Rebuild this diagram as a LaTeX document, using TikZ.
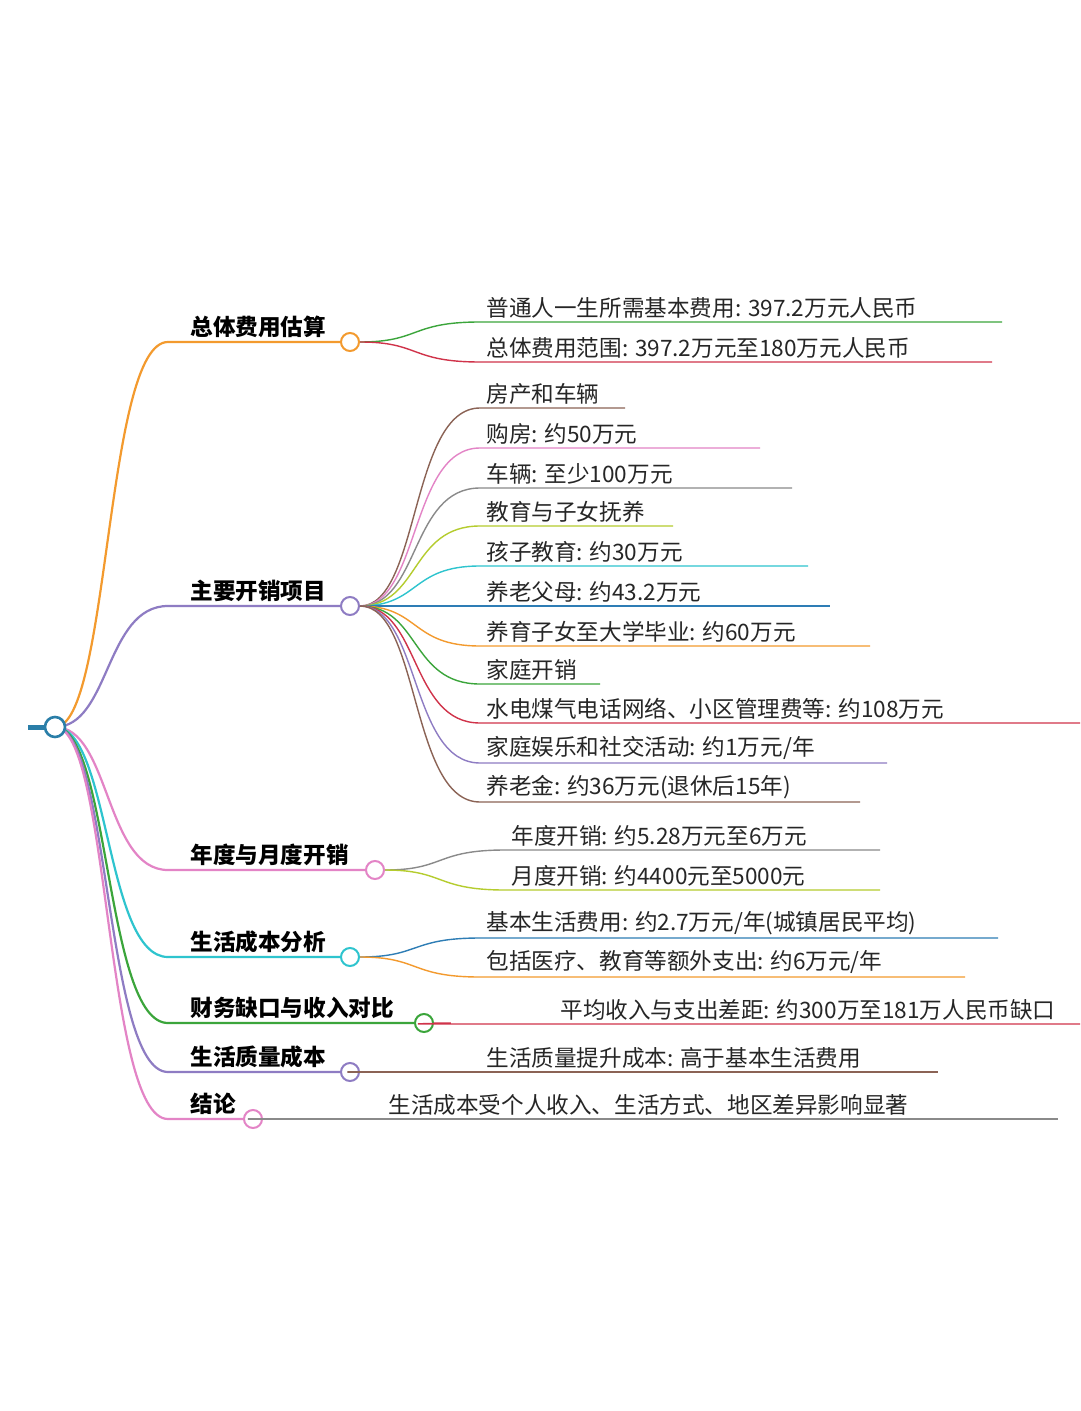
\documentclass[tikz,border=0pt]{standalone}
\usepackage{fontspec}
\setmainfont{Noto Sans CJK SC}
\definecolor{cor}{HTML}{F39A2E}
\definecolor{cpu}{HTML}{8E7CC3}
\definecolor{cpk}{HTML}{E384C6}
\definecolor{ccy}{HTML}{2EC4CE}
\definecolor{cgr}{HTML}{3BA53B}
\definecolor{cre}{HTML}{D0334A}
\definecolor{cbr}{HTML}{8B6355}
\definecolor{cgy}{HTML}{8A8A8A}
\definecolor{cyg}{HTML}{B5CC2E}
\definecolor{cbl}{HTML}{2E7DB5}
\definecolor{croot}{HTML}{2A7EA8}
\begin{document}
\begin{tikzpicture}[x=0.5pt,y=-0.5pt,
  dot/.style={circle,draw,fill=white,line width=1pt,minimum size=9pt,inner sep=0pt},
  br/.style={line width=1.1pt},
  lf/.style={line width=0.7pt},
  txt/.style={anchor=south west,inner sep=0pt,font=\fontsize{11.3}{13}\selectfont,text=black!85},
  mtxt/.style={anchor=south west,inner sep=0pt,font=\fontsize{11.3}{13}\selectfont\bfseries}]
\useasboundingbox (0,0) rectangle (1080,1411);
\fill[white] (0,0) rectangle (1080,1411);
\coordinate (s) at (28,727);
\draw[croot,line width=2.5pt] (s) -- (44,727);
% main branches: y, circle x, colour, label, name
\foreach \y/\cx/\c/\t/\n in {342/350/cor/总体费用估算/m1, 606/350/cpu/主要开销项目/m2, 870/375/cpk/年度与月度开销/m3, 957/350/ccy/生活成本分析/m4, 1023/424/cgr/财务缺口与收入对比/m5, 1072/350/cpu/生活质量成本/m6, 1119/253/cpk/结论/m7}{
  \coordinate (\n s) at (168,\y);
  \node[dot,draw=\c] (\n) at (\cx,\y) {};
  \draw[br,\c] (55,727) .. controls (110,727) and (105,\y) .. (\n s) -- (\n);
  \node[mtxt] (\n t) at (190,\y-4) {\t};
}
\node[dot,draw=croot,line width=1.3pt,minimum size=10pt] (root) at (55,727) {};
% children helper
\newcommand{\kid}[7]{% parent, y, startx, endx, colour, textx, text
  \coordinate (#1a#2) at (#3,#2);
  \coordinate (#1b#2) at (#4,#2);
  \draw[lf,#5] (#1.east) .. controls ($(#1.east)+(60,0)$) and ($(#1a#2)+(-70,0)$) .. (#1a#2) -- (#1b#2);
  \node[txt] (#1t#2) at (#6,#2-3) {#7};}
\usetikzlibrary{calc}
\kid{m1}{322}{480}{1002}{cgr}{486}{普通人一生所需基本费用: 397.2万元人民币}
\kid{m1}{362}{480}{992}{cre}{486}{总体费用范围: 397.2万元至180万元人民币}
\kid{m2}{408}{480}{625}{cbr}{486}{房产和车辆}
\kid{m2}{448}{480}{760}{cpk}{486}{购房: 约50万元}
\kid{m2}{488}{480}{792}{cgy}{486}{车辆: 至少100万元}
\kid{m2}{526}{480}{673}{cyg}{486}{教育与子女抚养}
\kid{m2}{566}{480}{808}{ccy}{486}{孩子教育: 约30万元}
\kid{m2}{606}{480}{830}{cbl}{486}{养老父母: 约43.2万元}
\kid{m2}{646}{480}{870}{cor}{486}{养育子女至大学毕业: 约60万元}
\kid{m2}{684}{480}{600}{cgr}{486}{家庭开销}
\kid{m2}{723}{480}{1080}{cre}{486}{水电煤气电话网络、小区管理费等: 约108万元}
\kid{m2}{763}{480}{887}{cpu}{486}{家庭娱乐和社交活动: 约1万元/年}
\kid{m2}{802}{480}{860}{cbr}{486}{养老金: 约36万元(退休后15年)}
\kid{m3}{850}{505}{880}{cgy}{511}{年度开销: 约5.28万元至6万元}
\kid{m3}{890}{505}{880}{cyg}{511}{月度开销: 约4400元至5000元}
\kid{m4}{938}{480}{998}{cbl}{486}{基本生活费用: 约2.7万元/年(城镇居民平均)}
\kid{m4}{977}{480}{965}{cor}{486}{包括医疗、教育等额外支出: 约6万元/年}
\kid{m5}{1024}{440}{1080}{cre}{560}{平均收入与支出差距: 约300万至181万人民币缺口}
\kid{m6}{1072}{370}{938}{cbr}{486}{生活质量提升成本: 高于基本生活费用}
\kid{m7}{1119}{270}{1058}{cgy}{388}{生活成本受个人收入、生活方式、地区差异影响显著}
\end{tikzpicture}
\end{document}
